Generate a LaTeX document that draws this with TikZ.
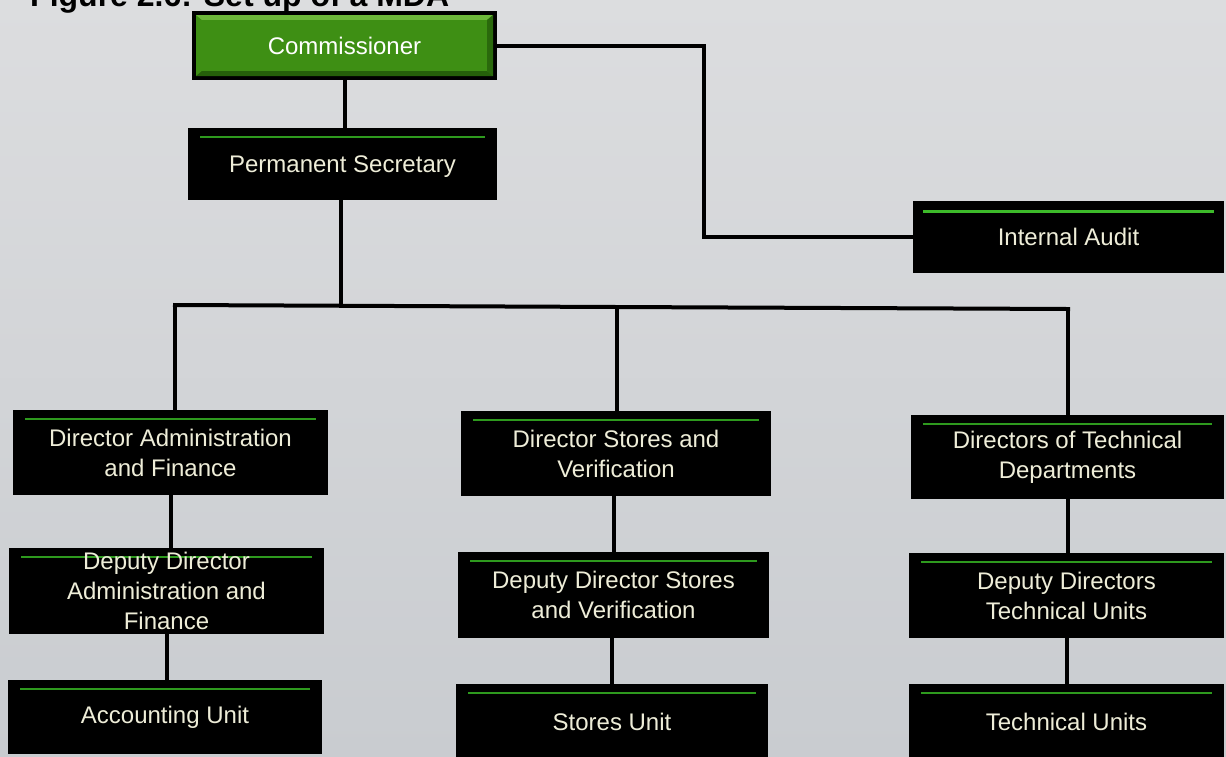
\documentclass[tikz,border=0pt]{standalone}
\usepackage{fontspec}
\setmainfont{Liberation Sans}
\usetikzlibrary{calc}

\definecolor{bgtop}{HTML}{DCDDDF}
\definecolor{bgbot}{HTML}{C9CCD0}
\definecolor{boxtext}{HTML}{EEEDD8}
\definecolor{barline}{HTML}{2E9A1E}
\definecolor{barbright}{HTML}{3DBA2A}
\definecolor{headgreen}{HTML}{3E8F14}
\definecolor{headlight}{HTML}{6DB83A}
\definecolor{headdark}{HTML}{25600A}

\tikzset{
  unit/.style={rectangle, fill=black, text=boxtext, inner sep=0pt, align=center,
    font=\fontsize{24}{30}\selectfont,
    path picture={
      \draw[line width=2pt, barline]
        ([xshift=12pt,yshift=-9pt]path picture bounding box.north west) --
        ([xshift=-12pt,yshift=-9pt]path picture bounding box.north east);
    }},
  auditunit/.style={unit,
    path picture={
      \draw[line width=3pt, barbright]
        ([xshift=10pt,yshift=-10pt]path picture bounding box.north west) --
        ([xshift=-10pt,yshift=-10pt]path picture bounding box.north east);
    }},
  headunit/.style={rectangle, fill=black, text=white, inner sep=0pt, align=center,
    font=\fontsize{24}{30}\selectfont,
    path picture={
      \fill[headgreen]
        ([xshift=4pt,yshift=-4pt]path picture bounding box.north west) rectangle
        ([xshift=-4pt,yshift=4pt]path picture bounding box.south east);
      \fill[headlight]
        ([xshift=4pt,yshift=-4pt]path picture bounding box.north west) --
        ([xshift=-4pt,yshift=-4pt]path picture bounding box.north east) --
        ([xshift=-10pt,yshift=-9pt]path picture bounding box.north east) --
        ([xshift=10pt,yshift=-9pt]path picture bounding box.north west) -- cycle;
      \fill[headdark]
        ([xshift=4pt,yshift=4pt]path picture bounding box.south west) --
        ([xshift=-4pt,yshift=4pt]path picture bounding box.south east) --
        ([xshift=-10pt,yshift=9pt]path picture bounding box.south east) --
        ([xshift=10pt,yshift=9pt]path picture bounding box.south west) -- cycle;
      \fill[headdark!80!headgreen]
        ([xshift=-4pt,yshift=-4pt]path picture bounding box.north east) --
        ([xshift=-4pt,yshift=4pt]path picture bounding box.south east) --
        ([xshift=-10pt,yshift=9pt]path picture bounding box.south east) --
        ([xshift=-10pt,yshift=-9pt]path picture bounding box.north east) -- cycle;
      \fill[headgreen]
        ([xshift=10pt,yshift=-9pt]path picture bounding box.north west) rectangle
        ([xshift=-10pt,yshift=9pt]path picture bounding box.south east);
    }},
  link/.style={line width=4pt, draw=black}
}

\begin{document}
\begin{tikzpicture}[x=1pt,y=-1pt]
  % canvas
  \useasboundingbox (0,0) rectangle (1226,756);
  \clip (0,0) rectangle (1226,756);
  \shade[top color=bgtop, bottom color=bgbot] (0,0) rectangle (1226,756);

  % heading, running off the top edge
  \node[anchor=base west, inner sep=0pt, font=\bfseries\fontsize{32}{32}\selectfont]
    (title) at (30,6) {Figure 2.6: Set up of a MDA};

  % top of the hierarchy
  \node[headunit, minimum width=305pt, minimum height=69pt] (comm) at (344.5,45.5)
    {Commissioner};
  \node[unit, minimum width=309pt, minimum height=72pt, text depth=0pt] (perm) at (342.5,164)
    {Permanent Secretary};
  \node[auditunit, minimum width=311pt, minimum height=72pt, text depth=0pt] (audit) at (1068.5,237)
    {Internal Audit};

  % directors
  \node[unit, minimum width=315pt, minimum height=85pt] (daf) at (170.5,452.5)
    {Director Administration\\and Finance};
  \node[unit, minimum width=310pt, minimum height=85pt] (dsv) at (616,453.5)
    {Director Stores and\\Verification};
  \node[unit, minimum width=313pt, minimum height=84pt] (dtd) at (1067.5,457)
    {Directors of Technical\\Departments};

  % deputy directors
  \node[unit, minimum width=315pt, minimum height=86pt] (ddaf) at (166.5,591)
    {Deputy Director\\Administration and\\Finance};
  \node[unit, minimum width=311pt, minimum height=86pt] (ddsv) at (613.5,595)
    {Deputy Director Stores\\and Verification};
  \node[unit, minimum width=315pt, minimum height=85pt] (ddtu) at (1066.5,595.5)
    {Deputy Directors\\Technical Units};

  % units
  \node[unit, minimum width=314pt, minimum height=74pt] (acc) at (165,717)
    {Accounting Unit};
  \node[unit, minimum width=312pt, minimum height=76pt, text depth=0pt] (stu) at (612,722)
    {Stores Unit};
  \node[unit, minimum width=315pt, minimum height=76pt, text depth=0pt] (tu) at (1066.5,722)
    {Technical Units};

  % junction points
  \coordinate (jog) at (704,0);
  \coordinate (busC) at (341,306);
  \coordinate (busL) at (175,305);
  \coordinate (busM) at (617,307);
  \coordinate (busR) at (1068,309);

  % connectors
  \draw[link] (comm.south) -- (comm.south |- perm.north);
  \draw[link] (comm.east) -- (comm.east -| jog) |- (audit.west);
  \draw[link] (perm.south -| busC) -- (busC);
  \draw[link, line cap=rect] (busL) -- (busM) -- (busR);
  \draw[link] (busL) -- (busL |- daf.north);
  \draw[link] (busM) -- (busM |- dsv.north);
  \draw[link] (busR) -- (busR |- dtd.north);
  \draw[link] (daf.south) -- (daf.south |- ddaf.north);
  \draw[link] (dsv.south -| ddsv.north) -- (ddsv.north);
  \draw[link] (dtd.south) -- (dtd.south |- ddtu.north);
  \draw[link] (ddaf.south) -- (ddaf.south |- acc.north);
  \draw[link] (ddsv.south -| stu.north) -- (stu.north);
  \draw[link] (ddtu.south) -- (ddtu.south |- tu.north);
\end{tikzpicture}
\end{document}
